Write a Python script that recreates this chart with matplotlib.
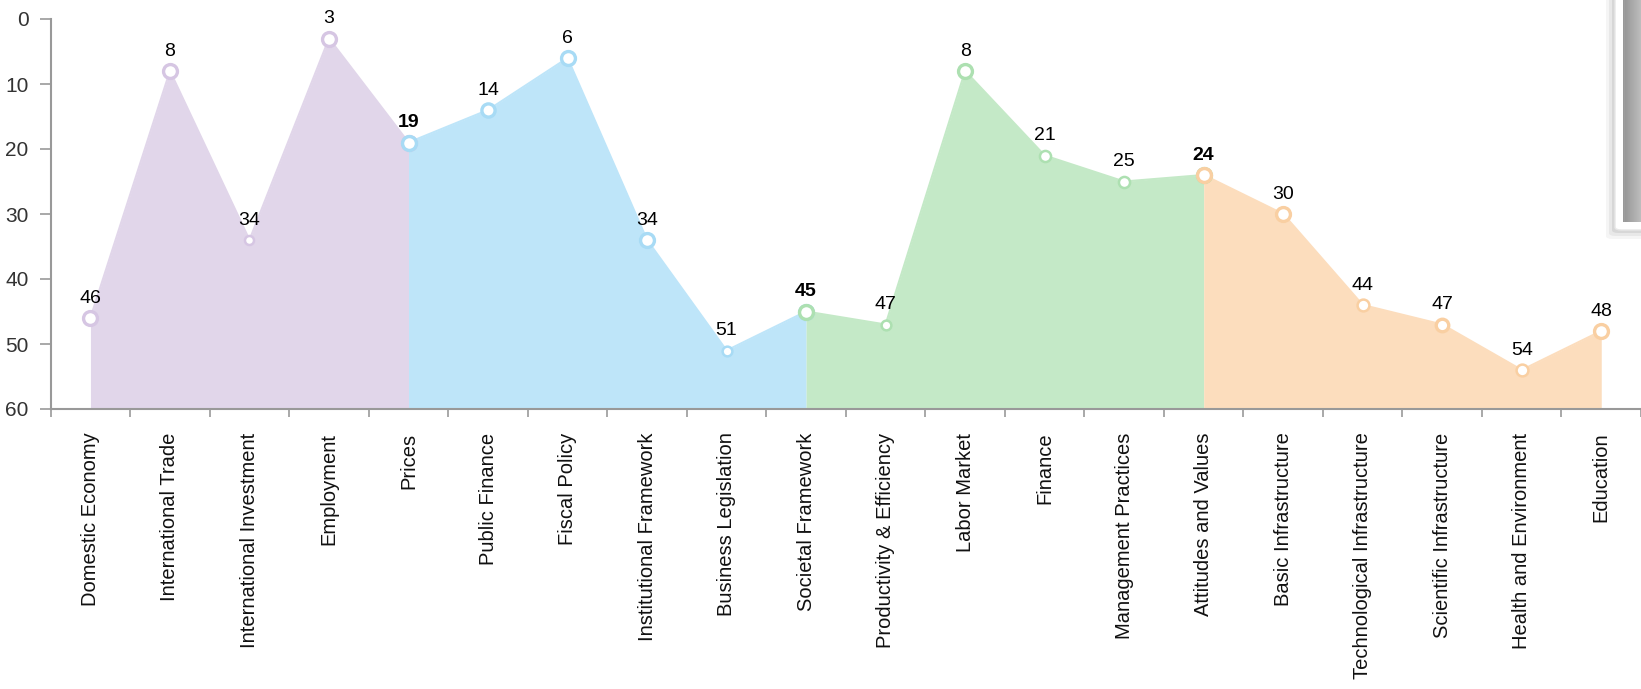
import numpy as np
import matplotlib
matplotlib.use("Agg")
import matplotlib.pyplot as plt
from matplotlib.patches import FancyBboxPatch

plt.rcParams["font.family"] = ["Liberation Sans", "DejaVu Sans"]

categories = [
    "Domestic Economy", "International Trade", "International Investment",
    "Employment", "Prices", "Public Finance", "Fiscal Policy",
    "Institutional Framework", "Business Legislation", "Societal Framework",
    "Productivity & Efficiency", "Labor Market", "Finance",
    "Management Practices", "Attitudes and Values", "Basic Infrastructure",
    "Technological Infrastructure", "Scientific Infrastructure",
    "Health and Environment", "Education",
]
ranks = [46, 8, 34, 3, 19, 14, 6, 34, 51, 45, 47, 8, 21, 25, 24, 30, 44, 47, 54, 48]

# factor groups: (first index, last index) - neighbouring groups share a point
groups = [(0, 4), (4, 9), (9, 14), (14, 19)]
fills = ["#e1d6ea", "#bee5f9", "#c4e9c7", "#fcddbd"]
rings = ["#d6c6e3", "#a8dbf5", "#ade0b1", "#f9cfa2"]

# marker ring size per point (style only)
msize = [10, 10, 6.5, 10, 10, 9.5, 10, 10, 7.0, 10,
         7.0, 10, 8.0, 8.0, 10, 10, 8.5, 9.0, 8.5, 10]
shared = {4, 9, 14}

x = np.arange(len(categories))
fig = plt.figure(figsize=(16.41, 6.89), dpi=100)
ax = fig.add_axes([50.7 / 1641, 1 - 409 / 689, 1 - 50.7 / 1641, 390 / 689])

for (a, b), fc in zip(groups, fills):
    xs = x[a:b + 1]
    ys = ranks[a:b + 1]
    ax.fill_between(xs, ys, 60, color=fc, lw=0, zorder=1)
    ax.plot(xs, ys, color=fc, lw=1.5, zorder=2)

for (a, b), ec in zip(groups, rings):
    for i in range(a, b + 1):
        ax.plot(x[i], ranks[i], "o", ms=msize[i], mfc="white", mec=ec,
                mew=2.4 if msize[i] > 8.5 else 1.8, zorder=3)

for i, v in enumerate(ranks):
    ax.annotate(str(v), (x[i], v), xytext=(0, 8), textcoords="offset points",
                ha="center", va="bottom", fontsize=14, color="#000000",
                fontweight="bold" if i in shared else "normal", zorder=4)

ax.set_ylim(60, 0)
ax.set_xlim(-0.5, (1641 - 50.7) / 80 - 0.5)
ax.set_yticks(range(0, 61, 10))
ax.set_xticks(x)
ax.set_xticklabels(categories, rotation=90, fontsize=14.5, color="#111111")
ax.set_xticks(np.arange(-0.5, 19.6, 1), minor=True)
ax.tick_params(axis="x", which="major", length=0, pad=17)
ax.tick_params(axis="x", which="minor", length=6, width=1.2, color="#999999")
ax.tick_params(axis="y", length=8, width=1.2, color="#999999",
               labelsize=15, labelcolor="#333333", pad=8)
for side in ["top", "right"]:
    ax.spines[side].set_visible(False)
for side in ["left", "bottom"]:
    ax.spines[side].set_color("#999999")
    ax.spines[side].set_linewidth(1.5)

# grey panel at the right edge of the screenshot
for k, al in enumerate([0.04, 0.05, 0.07]):
    pad = (3 - k) * 3
    fig.patches.append(FancyBboxPatch(
        ((1615 - pad) / 1641, (689 - 230 - pad) / 689), 0.05, 0.5,
        boxstyle="round,pad=0,rounding_size=0.004", transform=fig.transFigure,
        fc="black", ec="none", alpha=al, zorder=5))
fig.patches.append(FancyBboxPatch(
    (1615 / 1641, (689 - 230) / 689), 0.05, 0.5,
    boxstyle="round,pad=0,rounding_size=0.004", transform=fig.transFigure,
    fc="white", ec="#e8e8e8", lw=1, zorder=6))
gax = fig.add_axes([1623 / 1641, 1 - 222 / 689, 1 - 1623 / 1641, 222 / 689], zorder=7)
grad = np.linspace(0.58, 0.74, 40)
grad[:3] = [0.56, 0.62, 0.68]
gax.imshow(np.tile(grad, (60, 1)), cmap="gray", vmin=0, vmax=1, aspect="auto")
gax.axis("off")

fig.savefig("out.png", dpi=100)
